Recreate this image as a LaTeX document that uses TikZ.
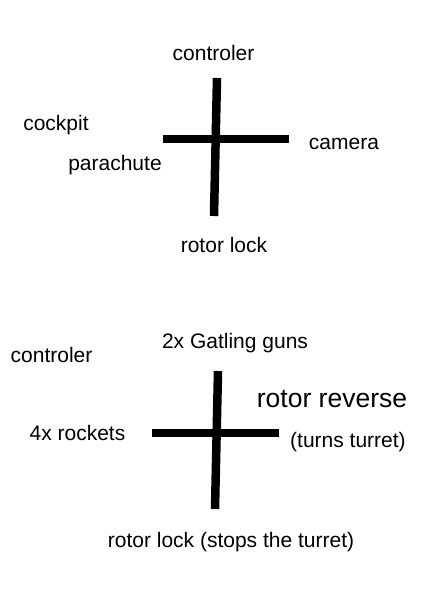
\documentclass[tikz,border=0pt]{standalone}
\usepackage{fontspec}
\setmainfont{Liberation Sans}
\begin{document}
\begin{tikzpicture}[x=1pt,y=-1pt,
  lbl/.style={anchor=base,inner sep=0pt,font=\fontsize{21}{24}\selectfont},
  biglbl/.style={anchor=base,inner sep=0pt,font=\fontsize{26.5}{30}\selectfont},
  bar/.style={line width=8.5pt,line cap=butt}]
\fill[white] (0,0) rectangle (425,600);
\useasboundingbox (0,0) rectangle (425,600);
% top cross
\coordinate (t1top) at (217,78);
\coordinate (t1bot) at (214,216);
\coordinate (t1l) at (163,139);
\coordinate (t1r) at (289,139);
\draw[bar] (t1top) -- (t1bot);
\draw[bar] (t1l) -- (t1r);
\node[lbl] (c1) at (213.5,60) {controler};
\node[lbl] (cp) at (56,130) {cockpit};
\node[lbl] (pa) at (115,170) {parachute};
\node[lbl] (ca) at (344,149) {camera};
\node[lbl] (rl) at (224,252) {rotor lock};
% bottom cross
\coordinate (b1top) at (218,371);
\coordinate (b1bot) at (215,509);
\coordinate (b1l) at (152,433);
\coordinate (b1r) at (279,433);
\draw[bar] (b1top) -- (b1bot);
\draw[bar] (b1l) -- (b1r);
\node[lbl] (gg) at (235,348) {2x Gatling guns};
\node[lbl] (c2) at (51.5,362) {controler};
\node[biglbl] (rr) at (332,407) {rotor reverse};
\node[lbl] (tt) at (348,447) {(turns turret)};
\node[lbl] (rk) at (77.5,440) {4x rockets};
\node[lbl] (rs) at (231,547) {rotor lock (stops the turret)};
\end{tikzpicture}
\end{document}
